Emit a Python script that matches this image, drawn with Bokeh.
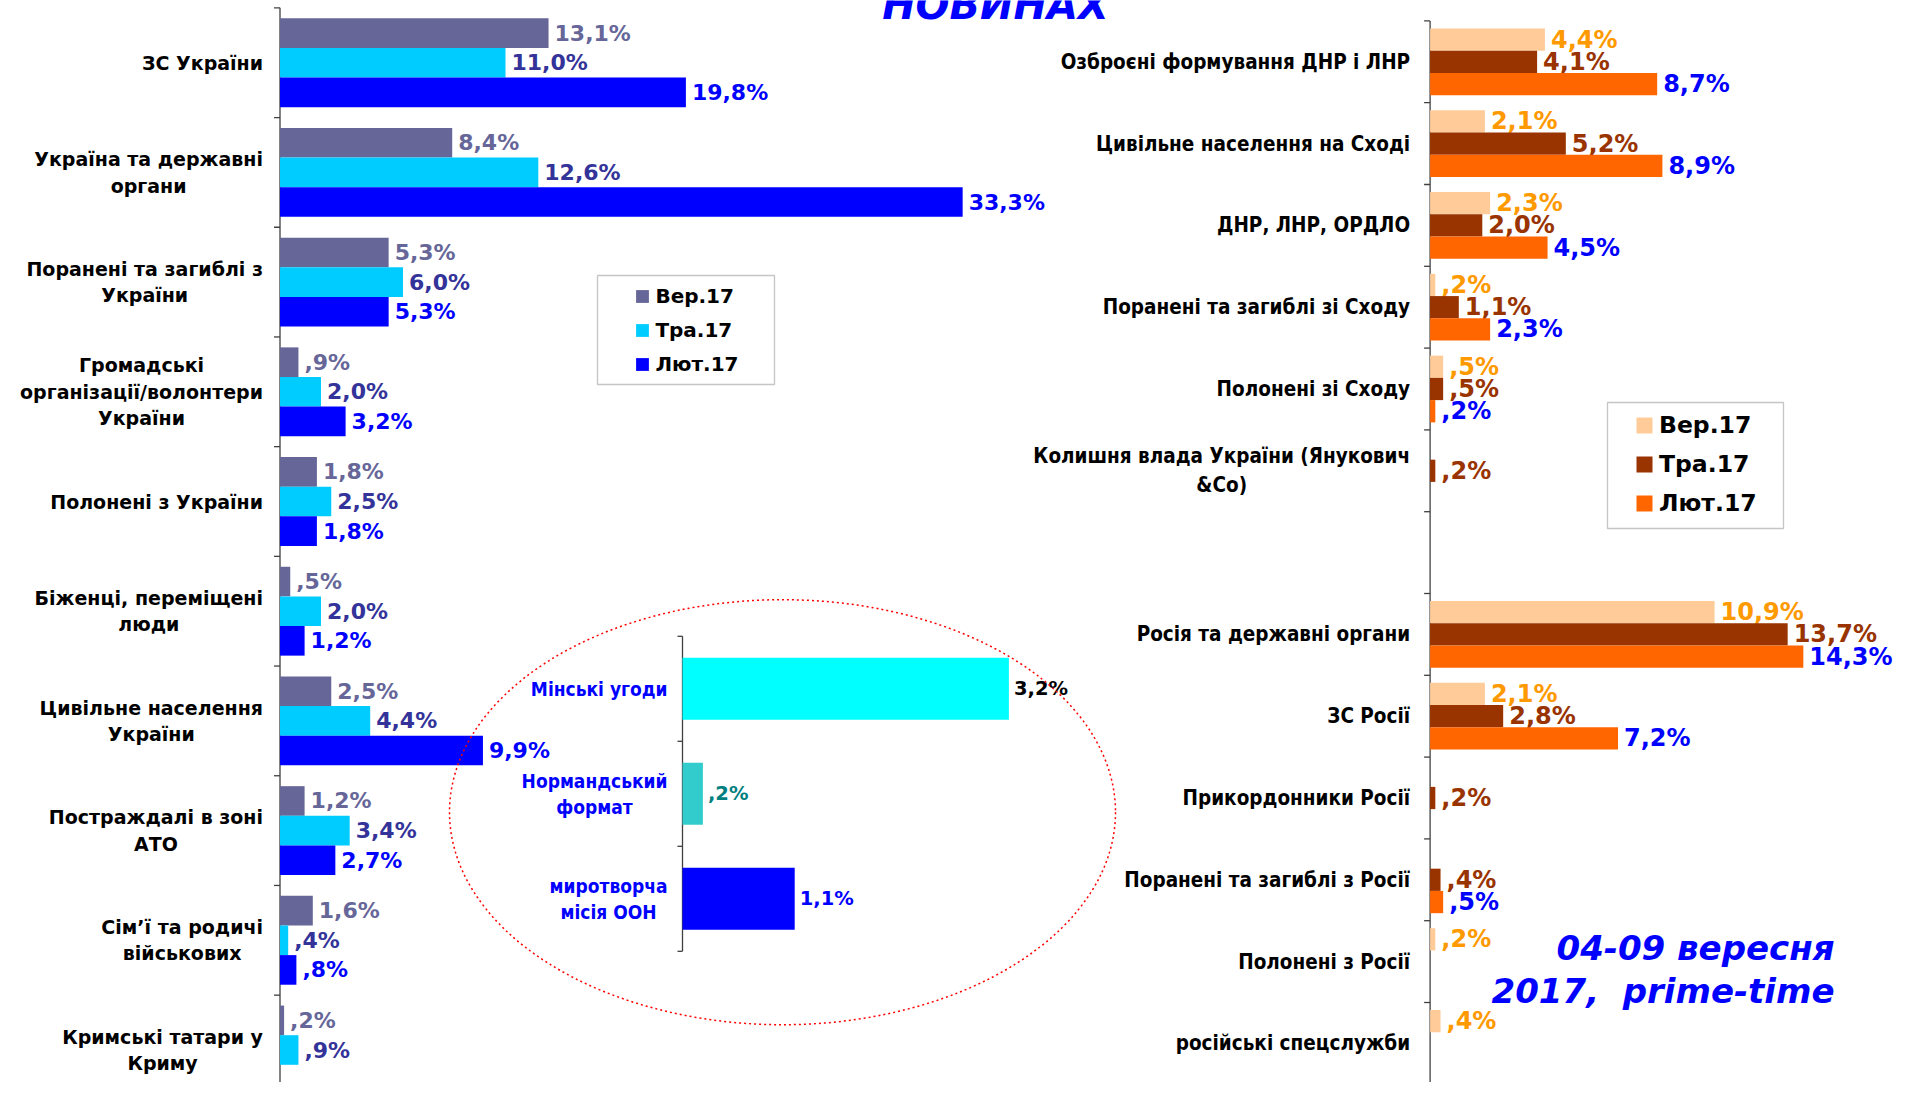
import math
from bokeh.plotting import figure
from bokeh.models import (Range1d, ColumnDataSource, Legend, LegendItem, BoxAnnotation, Label)
from bokeh.core.properties import value
from bokeh.transform import dodge
from bokeh.embed import file_html
from bokeh.resources import INLINE

# ---------------- data ----------------
series_names = ["Вер.17", "Тра.17", "Лют.17"]

left_categories = [
    "ЗС України",
    "Україна та державні\nоргани",
    "Поранені та загиблі з\nУкраїни",
    "Громадські\nорганізації/волонтери\nУкраїни",
    "Полонені з України",
    "Біженці, переміщені\nлюди",
    "Цивільне населення\nУкраїни",
    "Постраждалі в зоні\nАТО",
    "Сім’ї та родичі\nвійськових",
    "Кримські татари у\nКриму",
]
left_sep = [13.1, 8.4, 5.3, 0.9, 1.8, 0.5, 2.5, 1.2, 1.6, 0.2]
left_may = [11.0, 12.6, 6.0, 2.0, 2.5, 2.0, 4.4, 3.4, 0.4, 0.9]
left_feb = [19.8, 33.3, 5.3, 3.2, 1.8, 1.2, 9.9, 2.7, 0.8, None]

right_categories = [
    "Озброєні формування ДНР і ЛНР",
    "Цивільне населення на Сході",
    "ДНР, ЛНР, ОРДЛО",
    "Поранені та загиблі зі Сходу",
    "Полонені зі Сходу",
    "Колишня влада України (Янукович\n&Co)",
    "",
    "Росія та державні органи",
    "ЗС Росії",
    "Прикордонники Росії",
    "Поранені та загиблі з Росії",
    "Полонені з Росії",
    "російські спецслужби",
]
right_sep = [4.4, 2.1, 2.3, 0.2, 0.5, None, None, 10.9, 2.1, None, None, 0.2, 0.4]
right_may = [4.1, 5.2, 2.0, 1.1, 0.5, 0.2, None, 13.7, 2.8, 0.2, 0.4, None, None]
right_feb = [8.7, 8.9, 4.5, 2.3, 0.2, None, None, 14.3, 7.2, None, 0.5, None, None]

inset_categories = ["Мінські угоди", "Нормандський\nформат", "миротворча\nмісія ООН"]
inset_values = [3.2, 0.2, 1.1]

title_text = "НОВИНАХ"
date_lines = ["04-09 вересня", "2017,\u00a0 prime-time"]

# ---------------- styles ----------------
left_bar_colors = ["#666699", "#00CCFF", "#0000FF"]
left_lab_colors = ["#666699", "#333399", "#0000FF"]
right_bar_colors = ["#FFCC99", "#993300", "#FF6600"]
right_lab_colors = ["#FF9900", "#993300", "#0000FF"]
inset_bar_colors = ["#00FFFF", "#33CCCC", "#0000FF"]
inset_lab_colors = ["#000000", "#008080", "#0000FF"]

FONT = "DejaVu Sans"
FONT_C = "DejaVu Sans Condensed"
AXIS_COLOR = "#404040"

W, H = 1900, 1082


def x_range_for(zero_px, px_per_unit):
    start = -zero_px / px_per_unit
    return Range1d(start, start + W / px_per_unit)


def y_range_for(center0_px, pitch_px):
    return Range1d((H - center0_px) / pitch_px, -center0_px / pitch_px)


def pct(v):
    if v is None:
        return ""
    s = f"{v:.1f}".replace(".", ",")
    if s.startswith("0"):
        s = s[1:]
    return s + "%"


def num(v):
    return float("nan") if v is None else v


p = figure(width=W, height=H, output_backend="svg", toolbar_location=None, title=None,
           x_range=x_range_for(279.5, 20.5), y_range=y_range_for(62.2, 109.7),
           x_axis_type=None, y_axis_type=None,
           min_border_left=0, min_border_right=0, min_border_top=0, min_border_bottom=0)
p.extra_x_ranges = {"rx": x_range_for(1429.6, 26.1), "ix": x_range_for(682.0, 102.0)}
p.extra_y_ranges = {"ry": y_range_for(61.3, 81.8), "iy": y_range_for(688.3, 105.0)}
p.outline_line_color = None
p.background_fill_color = "white"
p.border_fill_color = "white"


def series(values, offset, bar_h, color, lab_color, font, size, xr, yr, lab_off):
    src = ColumnDataSource(dict(y=list(range(len(values))),
                                v=[num(v) for v in values],
                                lab=[pct(v) for v in values]))
    r = p.hbar(y=dodge("y", offset), left=0, right="v", height=bar_h, fill_color=color,
               line_color=None, source=src, x_range_name=xr, y_range_name=yr)
    p.text(x="v", y=dodge("y", offset), text="lab", source=src, x_offset=lab_off,
           text_baseline="middle", text_align="left", text_font=value(font),
           text_font_size=size, text_font_style="bold", text_color=lab_color,
           x_range_name=xr, y_range_name=yr)
    return r


def category_axis(cats, xr, yr, tick_len, offset, font, size, color):
    n = len(cats)
    bsrc = ColumnDataSource(dict(b=[i - 0.5 for i in range(n + 1)]))
    p.segment(x0=0, y0=-0.5, x1=0, y1=n - 0.5, line_color=AXIS_COLOR, line_width=1.3,
              x_range_name=xr, y_range_name=yr)
    p.ray(x=0, y="b", length=tick_len, length_units="screen", angle=math.pi,
          line_color=AXIS_COLOR, line_width=1.3, source=bsrc, x_range_name=xr, y_range_name=yr)
    src = ColumnDataSource(dict(y=list(range(n)), c=cats))
    p.text(x=0, y="y", text="c", source=src, x_offset=offset, anchor=value("center_right"),
           text_align="center", text_baseline="middle", text_font=value(font),
           text_font_size=size, text_font_style="bold", text_color=color,
           x_range_name=xr, y_range_name=yr)


# ---------------- left chart ----------------
category_axis(left_categories, "default", "default", 6, -17, FONT, "19px", "black")
left_r = []
for vals, off, c, lc in zip([left_sep, left_may, left_feb], [-0.27, 0.0, 0.27],
                            left_bar_colors, left_lab_colors):
    left_r.append(series(vals, off, 0.27, c, lc, FONT, "22px", "default", "default", 6))

left_legend = Legend(items=[LegendItem(label=s, renderers=[r]) for s, r in zip(series_names, left_r)],
                     location=(634.4, 705), orientation="vertical", padding=0, margin=0,
                     spacing=8, label_height=26, glyph_width=16, glyph_height=16,
                     label_standoff=5, border_line_color=None, background_fill_alpha=0,
                     label_text_font=FONT, label_text_font_size="20px",
                     label_text_font_style="bold", label_text_color="black")
p.add_layout(left_legend)
p.add_layout(BoxAnnotation(left=597, right=774, bottom=698, top=807,
                           left_units="screen", right_units="screen",
                           top_units="screen", bottom_units="screen",
                           fill_color=None, line_color=AXIS_COLOR, line_width=1.3))

# ---------------- right chart ----------------
category_axis(right_categories, "rx", "ry", 6, -20, FONT_C, "20.5px", "black")
right_r = []
for vals, off, c, lc in zip([right_sep, right_may, right_feb], [-0.272, 0.0, 0.272],
                            right_bar_colors, right_lab_colors):
    right_r.append(series(vals, off, 0.272, c, lc, FONT, "24px", "rx", "ry", 6))

right_legend = Legend(items=[LegendItem(label=s, renderers=[r]) for s, r in zip(series_names, right_r)],
                      location=(1634, 564), orientation="vertical", padding=0, margin=0,
                      spacing=9, label_height=30, glyph_width=20, glyph_height=20,
                      label_standoff=5, border_line_color=None, background_fill_alpha=0,
                      label_text_font=FONT, label_text_font_size="23.5px",
                      label_text_font_style="bold", label_text_color="black")
p.add_layout(right_legend)
p.add_layout(BoxAnnotation(left=1607, right=1783, bottom=554, top=680,
                           left_units="screen", right_units="screen",
                           top_units="screen", bottom_units="screen",
                           fill_color=None, line_color=AXIS_COLOR, line_width=1.3))

# ---------------- inset chart ----------------
category_axis(inset_categories, "ix", "iy", 5, -15, FONT_C, "19px", "#0000FF")
isrc = ColumnDataSource(dict(y=list(range(len(inset_values))), v=inset_values,
                             lab=[pct(v) for v in inset_values],
                             bc=inset_bar_colors, lc=inset_lab_colors))
p.hbar(y="y", left=0, right="v", height=0.59, fill_color="bc", line_color=None, source=isrc,
       x_range_name="ix", y_range_name="iy")
p.text(x="v", y="y", text="lab", source=isrc, x_offset=5, text_baseline="middle",
       text_font=value(FONT), text_font_size="19.5px", text_font_style="bold", text_color="lc",
       x_range_name="ix", y_range_name="iy")
p.ellipse(x=(782 - 682.0) / 102.0, y=(811.7 - 688.3) / 105.0, width=666, height=425,
          width_units="screen", height_units="screen",
          fill_color=None, line_color="#FF0000", line_width=1.5, line_dash="2 3",
          x_range_name="ix", y_range_name="iy")

# ---------------- texts ----------------
p.add_layout(Label(x=995, y=1078, x_units="screen", y_units="screen", text=title_text,
                   text_align="center", text_baseline="middle", text_font=FONT,
                   text_font_size="40px", text_font_style="bold italic", text_color="#0000FF"))
for txt, yy in zip(date_lines, [134.5, 92]):
    p.add_layout(Label(x=1834, y=yy, x_units="screen", y_units="screen", text=txt,
                       text_align="right", text_baseline="middle", text_font=FONT,
                       text_font_size="34px", text_font_style="bold italic",
                       text_color="#0000FF"))

open("out.html", "w").write(file_html(p, INLINE))
